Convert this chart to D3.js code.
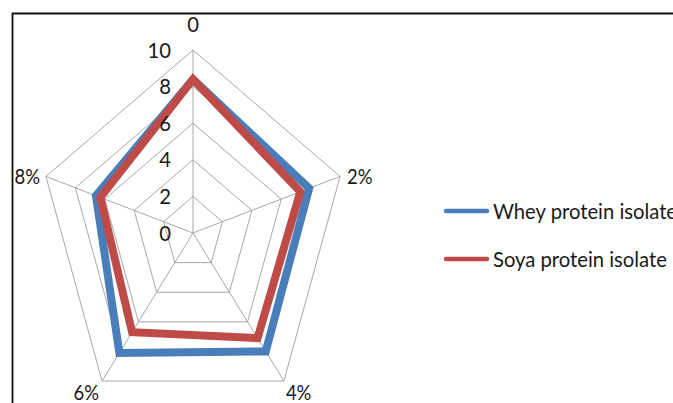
<!DOCTYPE html>
<html>
<head>
<meta charset="utf-8">
<script src="https://cdn.jsdelivr.net/npm/d3@7"></script>
<style>
  html, body { margin: 0; padding: 0; background: #fff; }
  svg { display: block; }
  text { font-family: Lato, "Open Sans", sans-serif; fill: #1a1a1a; }
</style>
</head>
<body>
<svg id="chart" width="673" height="403"></svg>
<script>
// Axis categories (clockwise from the top)
const categories = ["0", "2%", "4%", "6%", "8%"];
// Radial tick labels
const tickValues = [0, 2, 4, 6, 8, 10];
// Series values per category
const seriesNames = ["Whey protein isolate", "Soya protein isolate"];
const wheyValues = [8.4, 7.9, 8.0, 8.1, 6.6];
const soyaValues = [8.4, 7.3, 7.1, 6.7, 6.3];
const seriesColors = ["#4a7ebb", "#be4b48"];

const W = 673, H = 403;
const cx = 193, cy = 233;
const sx = 0.845;           // horizontal compression of the plot
const fontSize = 21;

const svg = d3.select("#chart");

// Frame around the chart area (runs off the right and bottom edges)
svg.append("path")
  .attr("d", `M12.5,${H + 5} L12.5,13.5 L${W + 5},13.5`)
  .attr("fill", "none").attr("stroke", "#111").attr("stroke-width", 1.8);

const r = d3.scaleLinear().domain([0, 10]).range([0, 183]);
const angle = d3.scalePoint().domain(categories).range([0, 2 * Math.PI * (categories.length - 1) / categories.length]);

function pt(cat, v) {
  const a = angle(cat);
  return [cx + sx * r(v) * Math.sin(a), cy - r(v) * Math.cos(a)];
}

// Measure text so all labels share one horizontal squeeze
const probe = svg.append("text").attr("font-size", fontSize).text("Soya protein isolate");
const kx = 174 / probe.node().getComputedTextLength();
probe.remove();

function label(g, x, y, txt, anchor, fitWidth) {
  const t = g.append("text")
    .attr("transform", `translate(${x},${y}) scale(${kx},1)`)
    .attr("font-size", fontSize)
    .attr("text-anchor", anchor)
    .attr("dy", "0.36em")
    .text(txt);
  if (fitWidth) t.attr("textLength", fitWidth / kx).attr("lengthAdjust", "spacingAndGlyphs");
  return t;
}

const grid = svg.append("g").attr("fill", "none").attr("stroke", "#a8a8a8").attr("stroke-width", 1);

// Concentric pentagon rings
tickValues.filter(t => t > 0).forEach(t => {
  grid.append("path")
    .attr("d", d3.line()(categories.map(c => pt(c, t))) + "Z");
});
// Spokes
categories.forEach(c => {
  grid.append("path").attr("d", d3.line()([pt(c, 0), pt(c, 10)]));
});

// Series outlines
const line = d3.line().curve(d3.curveLinearClosed);
[wheyValues, soyaValues].forEach((vals, i) => {
  svg.append("path")
    .attr("d", line(categories.map((c, j) => pt(c, vals[j]))))
    .attr("fill", "none")
    .attr("stroke", seriesColors[i])
    .attr("stroke-width", 8)
    .attr("stroke-linejoin", "miter");
});

// Radial tick labels along the top spoke
const labels = svg.append("g");
tickValues.forEach(t => {
  label(labels, cx - 22, cy - r(t), String(t), "end");
});

// Category labels at the outer vertices
categories.forEach(c => {
  const a = angle(c);
  const [x, y] = pt(c, 10);
  const s = Math.sin(a), co = Math.cos(a);
  const fit = c.includes("%") ? 25.5 : null;
  if (co > 0.9) label(labels, x, y - 26, c, "middle", fit);
  else if (co > 0) label(labels, x + (s > 0 ? 7 : -6), y, c, s > 0 ? "start" : "end", fit);
  else label(labels, x + (s > 0 ? 2 : -3), y + 11, c, s > 0 ? "start" : "end", fit);
});

// Legend
const legendY = d3.scalePoint().domain(seriesNames).range([211, 259]);
const legend = svg.append("g");
seriesNames.forEach((n, i) => {
  const y = legendY(n);
  legend.append("line")
    .attr("x1", 446).attr("x2", 487).attr("y1", y).attr("y2", y)
    .attr("stroke", seriesColors[i]).attr("stroke-width", 4.5).attr("stroke-linecap", "round");
  label(legend, 493, y, n, "start");
});
</script>
</body>
</html>
